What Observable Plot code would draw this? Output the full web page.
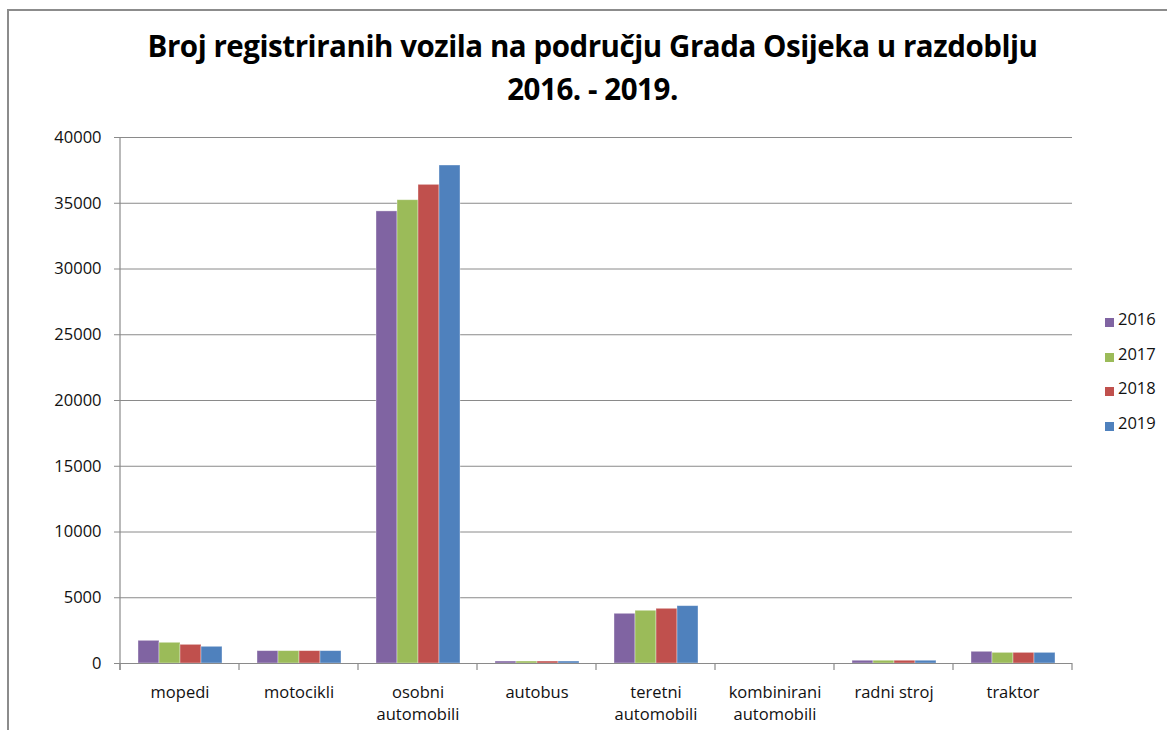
<!DOCTYPE html>
<html>
<head>
<meta charset="utf-8">
<script src="https://cdn.jsdelivr.net/npm/d3@7"></script>
<script src="https://cdn.jsdelivr.net/npm/@observablehq/plot@0.6"></script>
<style>
  html, body { margin: 0; padding: 0; background: #fff; }
  body { width: 1167px; height: 730px; overflow: hidden; position: relative; font-family: "Open Sans", sans-serif; }
  #frame { position: absolute; left: 7px; top: 9px; width: 1300px; height: 900px; border-left: 2px solid #8c8c8c; border-top: 2px solid #8c8c8c; box-sizing: border-box; }
  #title { position: absolute; left: 0; top: 0; width: 1185px; text-align: center; font-weight: 700; color: #000; white-space: nowrap; }
  #title div { position: absolute; left: 0; width: 100%; }
  #chart { position: absolute; left: 0; top: 117px; }
  #legend { position: absolute; left: 1103px; top: 310px; font-size: 16.5px; color: #111; }
  #legend .item { position: absolute; left: 0; height: 20px; white-space: nowrap; }
  #legend .sw { position: absolute; left: 2px; width: 9px; height: 9px; }
  #legend .lb { position: absolute; left: 15px; }
</style>
</head>
<body>
<div id="frame"></div>
<div id="title"><div id="t1">Broj registriranih vozila na području Grada Osijeka u razdoblju</div><div id="t2">2016. - 2019.</div></div>
<div id="chart"></div>
<div id="legend"></div>
<script>
const categories = ["mopedi", "motocikli", "osobni automobili", "autobus", "teretni automobili", "kombinirani automobili", "radni stroj", "traktor"];
const categoryLabels = ["mopedi", "motocikli", "osobni\nautomobili", "autobus", "teretni\nautomobili", "kombinirani\nautomobili", "radni stroj", "traktor"];
const years = ["2016", "2017", "2018", "2019"];
const values2016 = [1725, 940, 34380, 150, 3780, 0, 210, 890];
const values2017 = [1575, 940, 35230, 150, 4010, 0, 210, 810];
const values2018 = [1420, 940, 36400, 150, 4160, 0, 210, 810];
const values2019 = [1270, 940, 37870, 150, 4360, 0, 210, 810];
const yTicks = [0, 5000, 10000, 15000, 20000, 25000, 30000, 35000, 40000];
const colors = ["#8064A2", "#9BBB59", "#C0504D", "#4F81BD"];

const series = [values2016, values2017, values2018, values2019];
const data = [];
categories.forEach((c, i) => years.forEach((y, j) => data.push({category: c, year: y, value: series[j][i]})));
const labelOf = new Map(categories.map((c, i) => [c, categoryLabels[i]]));

// Title sizing
const t1 = document.getElementById("t1"), t2 = document.getElementById("t2");
[t1, t2].forEach(t => { t.style.fontSize = "29.5px"; t.style.letterSpacing = "-0.45px"; });
t1.style.top = "25px"; t2.style.top = "68px";
t1.style.lineHeight = t2.style.lineHeight = "42px";

const gray = "#8a8a8a";
const chart = Plot.plot({
  width: 1167,
  height: 613,
  marginLeft: 119,
  marginRight: 95,
  marginTop: 20,
  marginBottom: 67,
  style: {fontFamily: "Open Sans, sans-serif", fontSize: "16.5px", color: "#111", background: "transparent", overflow: "visible"},
  fx: {domain: categories, padding: 0, label: null},
  x: {domain: years, paddingInner: 0, paddingOuter: 0.73, axis: null},
  y: {domain: [0, 40000], label: null},
  color: {domain: years, range: colors},
  marks: [
    Plot.gridY(yTicks, {stroke: gray, strokeOpacity: 1, strokeWidth: 1}),
    Plot.barY(data, {fx: "category", x: "year", y: "value", fill: "year", stroke: "#ffffff", strokeOpacity: 0.45, strokeWidth: 0.8}),
    Plot.ruleY([0], {stroke: gray, strokeWidth: 1.2}),
    Plot.axisY(yTicks, {tickSize: 6, tickPadding: 13, stroke: gray, fill: "#111", fontSize: "16.5px", label: null, tickFormat: d => String(d)}),
    Plot.axisFx({anchor: "bottom", tickSize: 0, tickPadding: 19, lineHeight: 1.33, fontSize: "16.5px", fill: "#111", label: null, tickFormat: d => labelOf.get(d)})
  ]
});
document.getElementById("chart").appendChild(chart);

// Category boundary ticks and y-axis line, positioned from the Plot scales
const fx = chart.scale("fx"), ys = chart.scale("y");
const svg = d3.select(chart);
const bounds = categories.map(c => fx.apply(c)).concat([fx.apply(categories[categories.length - 1]) + fx.bandwidth]);
const y0 = ys.apply(0), yTop = ys.apply(40000);
svg.append("g").selectAll("line").data(bounds).join("line")
  .attr("x1", d => d).attr("x2", d => d)
  .attr("y1", y0).attr("y2", y0 + 7)
  .attr("stroke", gray).attr("stroke-width", 1.2);
svg.append("line").attr("x1", bounds[0]).attr("x2", bounds[0]).attr("y1", yTop).attr("y2", y0 + 7)
  .attr("stroke", gray).attr("stroke-width", 1.2);

// Legend
const color = chart.scale("color");
const legend = d3.select("#legend");
color.domain.forEach((yr, i) => {
  const item = legend.append("div").attr("class", "item").style("top", (i * 34.5) + "px");
  item.append("div").attr("class", "sw").style("top", "8px").style("background", color.apply(yr));
  item.append("div").attr("class", "lb").style("top", "-3px").text(yr);
});
</script>
</body>
</html>
